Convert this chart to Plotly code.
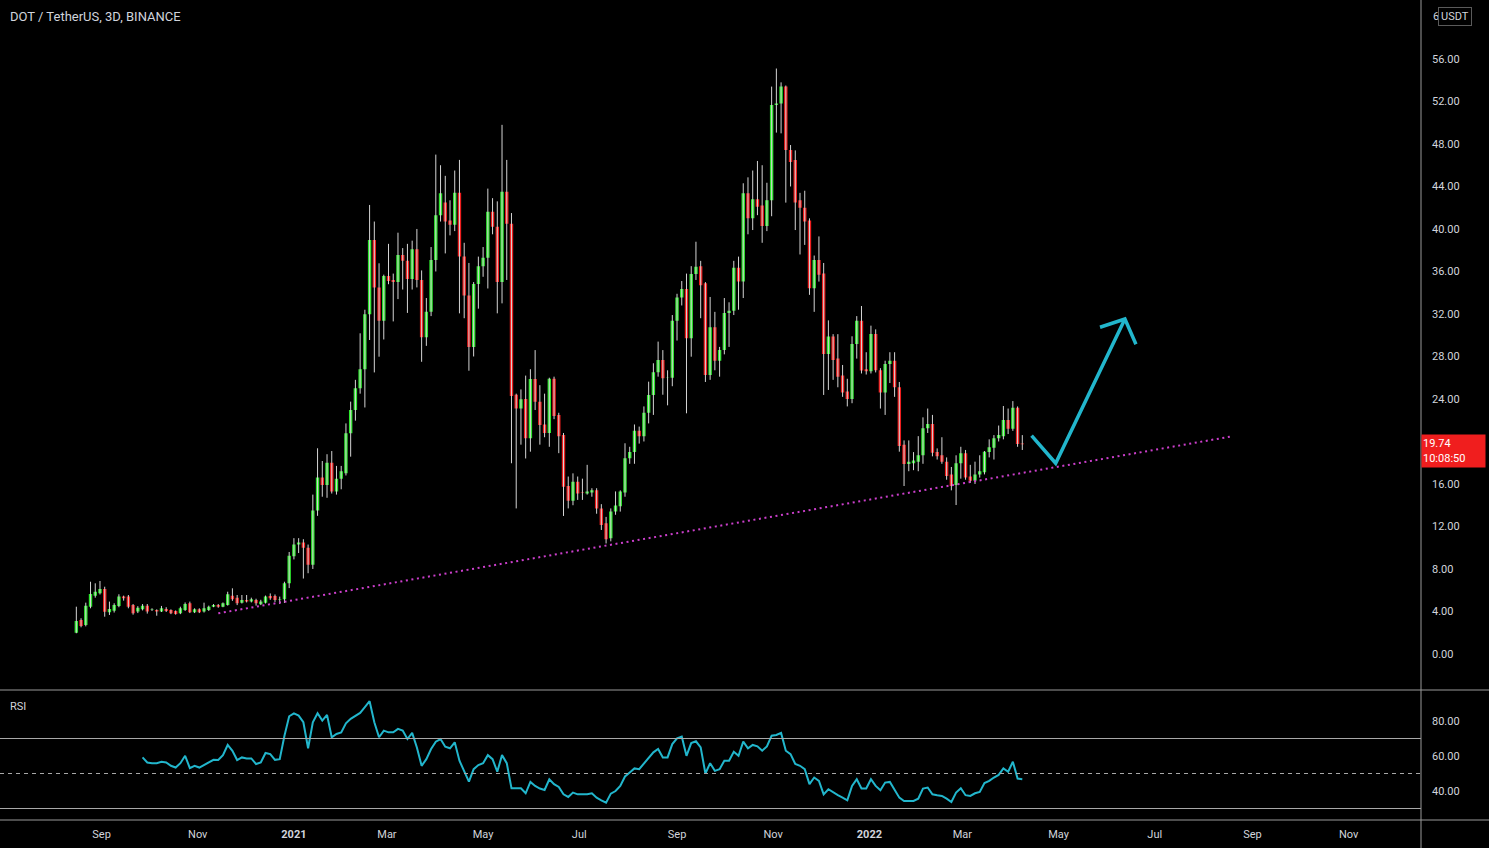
import pandas as pd
import plotly.graph_objects as go

# ---------------- data ----------------
candle_start = "2020-08-16"   # first 3-day candle
candle_freq = "3D"

opens = [2.00, 3.20, 2.73, 4.45, 5.49, 5.71, 6.12, 3.92, 4.08, 4.52,
         5.40, 5.40, 4.61, 3.99, 4.20, 4.55, 4.13, 4.15, 3.99, 4.24,
         4.13, 4.05, 3.83, 4.13, 4.77, 3.92, 4.20, 3.99, 4.13, 4.45,
         4.60, 4.45, 4.61, 5.49, 5.30, 4.83, 5.08, 4.93, 5.08, 4.68,
         4.83, 5.46, 5.46, 5.10, 5.14, 6.65, 9.20, 10.30, 10.50, 10.00,
         8.40, 13.50, 16.60, 15.90, 18.00, 15.30, 16.50, 17.00, 20.77, 22.96,
         25.00, 26.80, 31.97, 38.96, 34.48, 31.37, 35.58, 35.20, 35.00, 37.55,
         37.00, 35.30, 38.10, 35.20, 29.80, 32.20, 37.08, 41.30, 42.50, 40.80,
         40.40, 43.40, 37.40, 33.73, 28.90, 34.82, 36.50, 37.30, 41.63, 40.20,
         35.00, 43.50, 40.50, 24.40, 23.10, 24.00, 20.30, 25.88, 23.75, 21.60,
         20.80, 25.90, 22.50, 20.60, 15.80, 14.43, 16.20, 15.20, 15.10, 15.20,
         15.40, 13.70, 12.30, 10.90, 13.40, 13.90, 15.20, 18.42, 19.00, 21.02,
         20.50, 22.70, 24.38, 26.51, 27.67, 26.00, 26.00, 31.37, 33.54, 34.35,
         29.71, 35.76, 36.50, 34.90, 26.26, 30.75, 27.60, 28.60, 32.10, 32.30,
         36.36, 35.05, 43.36, 41.00, 42.80, 42.20, 40.28, 42.70, 51.67, 51.80,
         53.40, 47.44, 46.50, 42.70, 42.00, 40.80, 34.42, 37.08, 35.80, 28.24,
         29.87, 27.80, 26.20, 24.70, 24.00, 29.18, 31.37, 26.80, 26.60, 30.12,
         26.70, 24.60, 27.29, 27.60, 25.10, 19.70, 17.88, 17.95, 18.10, 18.70,
         21.24, 21.65, 19.00, 18.70, 18.10, 16.90, 15.90, 17.95, 18.90, 16.70,
         16.30, 16.90, 17.10, 19.00, 19.40, 20.30, 20.50, 22.02, 21.20, 23.18,
         19.80]

highs = [4.45, 3.36, 4.83, 6.80, 6.65, 6.87, 6.33, 4.93, 4.77, 5.62,
         5.49, 5.55, 4.70, 4.50, 4.70, 4.70, 4.30, 4.20, 4.52, 4.40,
         4.20, 4.10, 4.45, 4.85, 4.93, 4.30, 4.30, 4.83, 4.55, 4.70,
         4.70, 4.85, 5.86, 6.18, 5.55, 5.55, 5.55, 5.30, 5.20, 5.10,
         5.50, 5.70, 5.60, 5.40, 6.80, 9.60, 10.90, 10.90, 10.80, 10.30,
         15.00, 19.36, 18.16, 18.80, 19.10, 17.70, 17.70, 21.70, 23.75, 25.80,
         30.18, 32.40, 42.26, 40.70, 36.77, 35.70, 38.60, 35.80, 39.65, 38.20,
         38.60, 38.90, 40.00, 36.10, 33.50, 38.30, 47.00, 46.00, 45.00, 42.70,
         45.50, 46.50, 38.70, 36.80, 35.00, 37.40, 38.30, 43.80, 42.90, 42.60,
         49.80, 46.50, 41.50, 24.50, 24.90, 26.20, 26.80, 28.60, 25.30, 24.50,
         26.00, 26.10, 22.70, 20.80, 16.70, 17.00, 16.70, 16.50, 17.80, 15.60,
         15.60, 14.10, 12.90, 13.70, 15.30, 15.40, 19.83, 19.50, 21.60, 21.40,
         23.30, 25.63, 27.36, 29.40, 28.60, 26.70, 31.90, 33.90, 35.10, 35.80,
         36.50, 38.80, 37.00, 35.00, 33.60, 32.20, 28.90, 33.50, 33.10, 37.00,
         37.40, 44.30, 44.86, 45.50, 46.40, 46.00, 44.35, 53.40, 55.10, 53.80,
         53.50, 47.90, 47.40, 43.40, 43.60, 41.00, 37.50, 39.30, 36.80, 31.40,
         30.10, 30.10, 27.20, 25.90, 29.90, 31.80, 32.75, 28.40, 30.90, 30.55,
         26.90, 27.60, 28.40, 28.40, 25.60, 20.10, 20.10, 19.00, 20.50, 22.27,
         23.10, 22.50, 19.35, 20.40, 18.50, 17.60, 18.70, 19.50, 19.20, 17.80,
         18.10, 18.70, 19.10, 20.20, 20.60, 21.50, 23.34, 23.10, 23.80, 23.30,
         20.60]

lows = [1.95, 2.51, 2.60, 4.30, 5.30, 5.60, 3.51, 3.67, 3.90, 4.40,
        5.02, 4.30, 3.70, 3.85, 4.10, 3.80, 4.05, 3.60, 3.95, 3.95,
        3.75, 3.70, 3.75, 4.05, 3.85, 3.85, 3.85, 3.90, 4.05, 4.40,
        4.35, 4.40, 4.55, 5.00, 4.60, 4.75, 4.85, 4.85, 4.55, 4.60,
        4.75, 5.10, 4.90, 4.70, 4.80, 6.20, 8.90, 9.50, 7.10, 7.60,
        8.00, 13.00, 14.80, 14.70, 15.10, 15.00, 15.50, 16.80, 18.57, 21.96,
        24.50, 23.20, 29.55, 26.50, 27.98, 29.60, 34.80, 31.30, 33.40, 34.30,
        32.10, 34.30, 34.50, 27.50, 29.00, 31.80, 36.00, 40.70, 37.70, 39.40,
        39.80, 32.06, 31.60, 26.66, 28.00, 32.50, 35.50, 34.40, 39.50, 32.06,
        33.00, 35.20, 17.95, 13.70, 19.70, 18.40, 19.04, 22.96, 19.70, 20.40,
        19.50, 22.10, 18.90, 12.99, 13.70, 14.00, 14.50, 14.50, 15.00, 14.80,
        13.20, 11.67, 10.40, 10.60, 13.10, 13.40, 14.80, 17.90, 17.90, 19.80,
        20.00, 21.70, 22.50, 26.10, 24.40, 23.40, 25.20, 29.50, 32.80, 22.65,
        27.98, 35.20, 31.60, 25.60, 25.80, 26.70, 26.10, 28.20, 28.90, 31.90,
        32.40, 33.50, 39.50, 39.90, 41.30, 38.70, 39.80, 41.20, 49.07, 49.00,
        42.48, 44.00, 39.90, 37.60, 38.50, 33.80, 32.20, 35.05, 24.38, 24.85,
        25.80, 25.10, 24.20, 23.30, 23.60, 27.80, 26.40, 26.30, 26.40, 26.50,
        23.10, 22.50, 25.50, 24.20, 19.04, 15.81, 17.20, 17.30, 17.20, 17.90,
        20.80, 18.60, 18.30, 17.90, 16.40, 15.40, 14.02, 16.50, 16.40, 16.10,
        16.00, 16.60, 16.90, 18.50, 18.30, 20.00, 20.20, 20.70, 21.00, 19.50,
        19.20]

closes = [3.10, 2.64, 4.55, 5.65, 5.86, 6.12, 3.98, 4.24, 4.61, 5.40,
          5.24, 4.45, 3.83, 4.36, 4.55, 3.99, 4.19, 3.99, 4.30, 4.05,
          3.83, 3.76, 4.30, 4.70, 3.92, 4.20, 3.92, 4.30, 4.45, 4.60,
          4.45, 4.77, 5.62, 5.14, 4.77, 5.08, 4.93, 5.14, 4.77, 4.93,
          5.40, 5.24, 5.08, 5.15, 6.65, 9.25, 10.30, 10.50, 10.00, 8.40,
          13.50, 16.60, 15.90, 18.00, 15.30, 16.50, 17.20, 20.77, 22.96, 25.00,
          26.80, 31.97, 38.96, 34.48, 31.37, 35.58, 35.10, 35.00, 37.55, 37.00,
          35.30, 38.10, 35.20, 29.80, 32.20, 37.08, 41.30, 43.36, 40.70, 40.40,
          43.40, 37.40, 33.73, 28.90, 34.82, 36.50, 37.30, 41.63, 40.20, 35.00,
          43.50, 40.50, 24.28, 23.10, 23.98, 20.30, 25.88, 23.75, 21.55, 20.80,
          25.90, 22.40, 20.50, 15.75, 14.43, 16.20, 15.10, 15.15, 15.30, 15.40,
          13.70, 12.14, 10.79, 13.40, 13.97, 15.30, 18.42, 19.00, 21.02, 20.50,
          22.70, 24.38, 26.51, 27.67, 25.95, 26.02, 31.37, 33.54, 34.35, 29.71,
          35.76, 36.45, 34.70, 26.26, 30.75, 27.60, 28.60, 32.10, 32.30, 36.36,
          35.05, 43.36, 41.00, 42.80, 42.10, 40.28, 42.70, 51.67, 51.80, 53.40,
          47.44, 46.30, 42.50, 42.00, 40.70, 34.42, 37.08, 35.70, 28.24, 29.87,
          27.67, 26.10, 24.60, 24.00, 29.18, 31.37, 26.67, 26.60, 30.12, 26.70,
          24.60, 27.29, 27.60, 25.10, 19.58, 17.88, 18.10, 18.20, 18.70, 21.24,
          21.65, 18.95, 18.60, 18.10, 16.75, 15.80, 17.95, 18.90, 16.60, 16.30,
          16.90, 17.20, 19.04, 19.45, 20.30, 20.60, 22.02, 21.20, 23.18, 19.76,
          19.74]

rsi_first_candle = 14
rsi_values = [59.2, 56.3, 55.9, 55.9, 56.7, 56.3, 54.4, 53.4, 55.9, 60.1,
              53.1, 54.4, 53.4, 54.8, 56.3, 57.8, 57.7, 60.5, 66.3, 63.0,
              57.7, 59.2, 58.6, 58.6, 55.4, 56.3, 61.7, 61.1, 57.8, 58.2,
              71.6, 82.7, 84.4, 83.1, 79.3, 64.4, 79.3, 84.4, 80.2, 83.5,
              70.7, 72.6, 73.5, 78.7, 81.2, 83.1, 84.6, 87.9, 91.3, 79.3,
              70.7, 74.5, 73.5, 73.5, 75.5, 74.5, 69.7, 73.2, 64.9, 54.4,
              58.2, 64.0, 68.2, 69.7, 65.3, 64.4, 67.8, 57.3, 51.5, 45.4,
              52.5, 54.8, 55.9, 60.5, 58.2, 51.0, 60.5, 55.9, 41.6, 41.4,
              41.6, 38.7, 45.2, 42.9, 41.4, 40.6, 46.7, 43.9, 42.3, 38.1,
              36.6, 39.1, 38.1, 38.1, 38.1, 38.7, 36.2, 34.7, 33.3, 38.5,
              40.0, 42.9, 48.3, 50.6, 52.9, 52.5, 55.9, 59.2, 62.1, 64.0,
              59.2, 59.2, 66.8, 70.1, 71.1, 60.1, 67.4, 68.4, 64.9, 50.0,
              55.9, 51.5, 52.5, 57.3, 57.3, 62.4, 60.1, 68.2, 64.4,
              66.3, 65.5, 63.0, 65.5, 71.6, 72.0, 73.2, 63.0, 61.1, 55.4,
              54.4, 52.5, 43.9, 47.7, 45.8, 38.1, 41.0, 39.1, 37.6, 36.2,
              34.7, 42.9, 46.7, 41.4, 41.4, 46.7, 42.9, 40.4, 44.8, 45.2,
              41.0, 36.2, 34.3, 34.3, 34.3, 35.6, 41.4, 42.0, 38.1, 37.6,
              37.2, 35.6, 33.7, 39.1, 41.6, 37.6, 37.2, 38.7, 39.5, 44.5,
              45.8, 47.7, 49.2, 52.9, 51.0, 56.7, 47.1, 46.7]

rsi_upper, rsi_middle, rsi_lower = 70, 50, 30

price_ticks = [0, 4, 8, 12, 16, 20, 24, 28, 32, 36, 40, 44, 48, 52, 56]
price_tick_labels = ["0.00", "4.00", "8.00", "12.00", "16.00", "", "24.00", "28.00",
                     "32.00", "36.00", "40.00", "44.00", "48.00", "52.00", "56.00"]
top_tick_fragment = "6"       # the 60.00 label, mostly hidden under the USDT badge
rsi_ticks = [40, 60, 80]

month_ticks = ["2020-09-01", "2020-11-01", "2021-01-01", "2021-03-01", "2021-05-01",
               "2021-07-01", "2021-09-01", "2021-11-01", "2022-01-01", "2022-03-01",
               "2022-05-01", "2022-07-01", "2022-09-01", "2022-11-01"]
month_labels = ["Sep", "Nov", "<b>2021</b>", "Mar", "May", "Jul", "Sep", "Nov",
                "<b>2022</b>", "Mar", "May", "Jul", "Sep", "Nov"]

x_window = ["2020-06-28 14:00", "2022-12-16 21:00"]
price_window = [-3.39, 61.55]
rsi_window = [23.43, 97.71]

# drawings
trend_dates = ["2020-11-14 01:00", "2022-08-17 16:00"]
trend_prices = [3.83, 20.45]

arrow_dates = ["2022-04-13 21:00", "2022-04-29 04:00", "2022-06-12 02:00", None,
               "2022-05-27 07:00", "2022-06-12 02:00", "2022-06-19 02:00"]
arrow_prices = [20.55, 17.95, 31.53, None, 30.75, 31.53, 29.15]

title_text = "DOT / TetherUS, 3D, BINANCE"
countdown_text = "10:08:50"

# ---------------- figure ----------------
GREEN = "#2ee62e"
RED = "#f01e1e"
WICK = "#d4d4d4"
CYAN = "#22b6cc"
TEXT = "#d1d4dc"
LINE = "#9a9a9a"

dates = pd.date_range(candle_start, periods=len(opens), freq=candle_freq)

wick_x, wick_y = [], []
for d, lo, hi in zip(dates, lows, highs):
    wick_x += [d, d, None]
    wick_y += [lo, hi, None]

fig = go.Figure()

fig.add_trace(go.Scatter(x=wick_x, y=wick_y, mode="lines",
                         line=dict(color=WICK, width=1), hoverinfo="skip",
                         showlegend=False, xaxis="x", yaxis="y"))

fig.add_trace(go.Candlestick(
    x=dates, open=opens, high=highs, low=lows, close=closes,
    increasing=dict(fillcolor=GREEN, line=dict(color=GREEN, width=0)),
    decreasing=dict(fillcolor=RED, line=dict(color=RED, width=0)),
    whiskerwidth=0, showlegend=False, xaxis="x", yaxis="y"))

fig.add_trace(go.Scatter(x=trend_dates, y=trend_prices, mode="lines",
                         line=dict(color="#cc3fcc", width=2, dash="2px,3.6px"),
                         hoverinfo="skip", showlegend=False, xaxis="x", yaxis="y"))

fig.add_trace(go.Scatter(x=arrow_dates, y=arrow_prices, mode="lines",
                         line=dict(color=CYAN, width=3.5), connectgaps=False,
                         hoverinfo="skip", showlegend=False, xaxis="x", yaxis="y"))

fig.add_trace(go.Scatter(x=dates[rsi_first_candle:], y=rsi_values, mode="lines",
                         line=dict(color=CYAN, width=2), hoverinfo="skip",
                         showlegend=False, xaxis="x", yaxis="y2"))

W, H = 1489, 848
ml, mr, mt, mb = 0, 68, 0, 28
pw, ph = W - ml - mr, H - mt - mb
split = 130 / ph   # RSI pane height fraction

shapes = []
for lvl, dash in [(rsi_upper, "solid"), (rsi_lower, "solid"), (rsi_middle, "4px,4px")]:
    shapes.append(dict(type="line", xref="paper", yref="y2", x0=0, x1=1, y0=lvl, y1=lvl,
                       line=dict(color="#a8a8a8", width=1, dash=dash)))
# pane separators and price-axis border
shapes.append(dict(type="line", xref="paper", yref="paper", x0=0, x1=W / pw, y0=split, y1=split,
                   line=dict(color=LINE, width=1)))
shapes.append(dict(type="line", xref="paper", yref="paper", x0=0, x1=W / pw, y0=0, y1=0,
                   line=dict(color=LINE, width=1)))
shapes.append(dict(type="line", xref="paper", yref="paper", x0=1, x1=1, y0=-mb / ph, y1=1,
                   line=dict(color=LINE, width=1)))

annotations = [
    dict(text=title_text, xref="paper", yref="paper", x=8 / pw, y=(ph - 16) / ph,
         xanchor="left", yanchor="middle", showarrow=False,
         font=dict(family="Roboto, Arial", size=13, color=TEXT)),
    dict(text="RSI", xref="paper", yref="paper", x=8 / pw, y=(ph - 706) / ph,
         xanchor="left", yanchor="middle", showarrow=False,
         font=dict(family="Roboto, Arial", size=11, color=TEXT)),
    dict(text=top_tick_fragment, xref="paper", yref="paper", x=1431 / pw, y=(ph - 16) / ph,
         xanchor="left", yanchor="middle", showarrow=False,
         font=dict(family="Roboto, Arial", size=11, color=TEXT)),
    dict(text="USDT", xref="paper", yref="paper", x=1438 / pw, y=(ph - 16) / ph,
         xanchor="left", yanchor="middle", showarrow=False,
         bgcolor="#000000", bordercolor="#5a5a5a", borderwidth=1, borderpad=2,
         font=dict(family="Roboto, Arial", size=11, color=TEXT)),
    dict(text=f"{closes[-1]:.2f}<br>{countdown_text}", xref="paper", yref="y",
         x=1.0, y=closes[-1], xanchor="left", yanchor="middle", yshift=-7,
         showarrow=False, align="left", bgcolor=RED, borderpad=1, width=61, height=30,
         font=dict(family="Roboto, Arial", size=11, color="#ffffff")),
]

fig.update_layout(
    width=W, height=H,
    margin=dict(l=ml, r=mr, t=mt, b=mb),
    paper_bgcolor="#000000", plot_bgcolor="#000000",
    showlegend=False, hovermode=False,
    boxgap=0.28, boxgroupgap=0,
    xaxis=dict(type="date", range=x_window, domain=[0, 1], anchor="y2",
               tickvals=month_ticks, ticktext=month_labels, showgrid=False,
               zeroline=False, showline=False, ticks="",
               tickfont=dict(family="Roboto, Arial", size=11, color=TEXT),
               ticklabelstandoff=6,
               rangeslider=dict(visible=False), fixedrange=True),
    yaxis=dict(domain=[split, 1], range=price_window, side="right", anchor="x",
               tickvals=price_ticks, ticktext=price_tick_labels,
               showgrid=False, zeroline=False, showline=False, ticks="",
               ticklabelstandoff=10,
               tickfont=dict(family="Roboto, Arial", size=11, color=TEXT)),
    yaxis2=dict(domain=[0, split], range=rsi_window, side="right", anchor="x",
                tickvals=rsi_ticks, ticktext=[f"{v:.2f}" for v in rsi_ticks],
                showgrid=False, zeroline=False, showline=False, ticks="",
                ticklabelstandoff=10,
                tickfont=dict(family="Roboto, Arial", size=11, color=TEXT)),
    shapes=shapes,
    annotations=annotations,
)

fig.write_html("out.html", config={"displayModeBar": False},
               post_script="document.body.style.margin='0px';document.body.style.overflow='hidden';")
